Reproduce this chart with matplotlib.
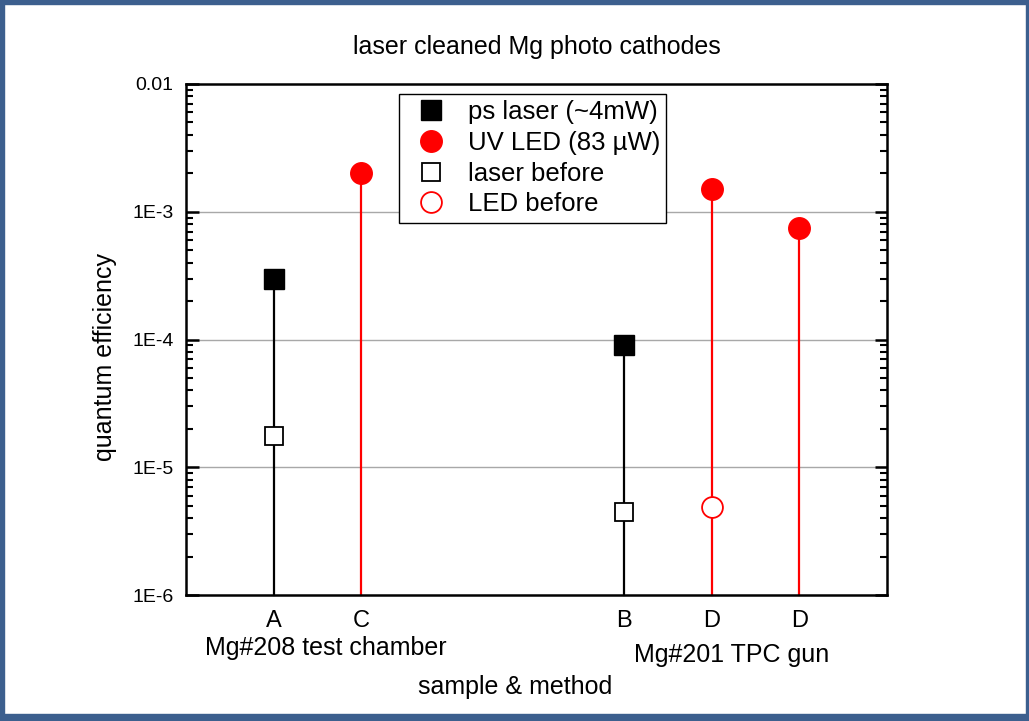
import matplotlib
matplotlib.use("Agg")
import matplotlib.pyplot as plt
from matplotlib.lines import Line2D
from matplotlib.patches import Rectangle
from matplotlib.ticker import LogLocator, FixedLocator, NullFormatter

plt.rcParams['font.family'] = ['Liberation Sans', 'DejaVu Sans']

# ---- data -------------------------------------------------------------
tick_labels = ['A', 'C', 'B', 'D', 'D']
laser_after = {'A': 3.0e-4, 'B': 9.0e-5}          # ps laser (~4mW)
laser_before = {'A': 1.75e-5, 'B': 4.5e-6}        # laser before
led_after = [2.0e-3, 1.5e-3, 7.5e-4]              # UV LED, samples C, D, D
led_before = [None, 4.9e-6, None]                 # LED before (first D only)
y_ticks = [1e-6, 1e-5, 1e-4, 1e-3, 1e-2]
y_tick_labels = ['1E-6', '1E-5', '1E-4', '1E-3', '0.01']
group_labels = ['Mg#208 test chamber', 'Mg#201 TPC gun']
legend_labels = ['ps laser (~4mW)', 'UV LED (83 µW)', 'laser before', 'LED before']

RED = '#ff0000'
W, H = 1029, 721
fig = plt.figure(figsize=(W / 100, H / 100), dpi=100)

# frame around the slide
frame = '#3c5f8e'
fig.patches.append(Rectangle((0, 0), 4 / W, 1, transform=fig.transFigure, color=frame, zorder=10))
fig.patches.append(Rectangle((0, 1 - 4 / H), 1, 4 / H, transform=fig.transFigure, color=frame, zorder=10))
fig.patches.append(Rectangle((0, 0), 1, 7 / H, transform=fig.transFigure, color=frame, zorder=10))
fig.patches.append(Rectangle((1 - 3 / W, 0), 3 / W, 1, transform=fig.transFigure, color=frame, zorder=10))

left, right, top, bottom = 186, 887, 84, 595
ax = fig.add_axes([left / W, 1 - bottom / H, (right - left) / W, (bottom - top) / H])
ax.set_yscale('log')
ax.set_ylim(1e-6, 1e-2)
ax.set_xlim(0, 8)

# slot positions for each sample on the x axis
slot = {'A': 1, 'C': 2, 'B': 5, 'D1': 6, 'D2': 7}
base = 1e-6

# laser measurements: stems plus filled/open squares
for key in ['A', 'B']:
    x = slot[key]
    ax.plot([x, x], [base, laser_after[key]], color='black', lw=1.6, zorder=2, clip_on=False)
    ax.plot(x, laser_after[key], 's', ms=14, mfc='black', mec='black', mew=1, zorder=4)
    ax.plot(x, laser_before[key], 's', ms=13.5, mfc='white', mec='black', mew=1.3, zorder=4)

# LED measurements: red stems plus filled/open circles
for key, v_after, v_before in zip(['C', 'D1', 'D2'], led_after, led_before):
    x = slot[key]
    ax.plot([x, x], [base, v_after], color=RED, lw=1.6, zorder=2, clip_on=False)
    ax.plot(x, v_after, 'o', ms=15.5, mfc=RED, mec=RED, mew=1, zorder=4)
    if v_before is not None:
        ax.plot(x, v_before, 'o', ms=15, mfc='white', mec=RED, mew=1.3, zorder=4)

# axes styling
for sp in ax.spines.values():
    sp.set_linewidth(1.8)
ax.yaxis.set_major_locator(FixedLocator(y_ticks))
ax.set_yticklabels(y_tick_labels)
ax.yaxis.set_minor_locator(LogLocator(base=10, subs=range(2, 10), numticks=20))
ax.yaxis.set_minor_formatter(NullFormatter())
ax.tick_params(axis='y', which='major', direction='in', length=9, width=1.8,
               left=True, right=True, labelsize=14, pad=9)
ax.tick_params(axis='y', which='minor', direction='in', length=5, width=1.5,
               left=True, right=True)
ax.set_xticks([slot['A'], slot['C'], slot['B'], slot['D1'], slot['D2']])
ax.set_xticklabels(tick_labels)
ax.tick_params(axis='x', which='both', length=0, labelsize=17, pad=11)

for v in [1e-5, 1e-4, 1e-3]:
    ax.axhline(v, color='#a8a8a8', lw=1.0, zorder=1)

# group labels under the sample letters
trans = ax.get_xaxis_transform()
ax.text(1.6, 1 - (648 - top) / (bottom - top), group_labels[0], transform=trans,
        fontsize=18, ha='center', va='center')
ax.text(6.23, 1 - (655 - top) / (bottom - top), group_labels[1], transform=trans,
        fontsize=18, ha='center', va='center')

fig.text(515 / W, 1 - 687 / H, 'sample & method', fontsize=18, ha='center', va='center')
fig.text(105 / W, 1 - 357 / H, 'quantum efficiency', fontsize=18, rotation=90,
         ha='center', va='center')
fig.text(537 / W, 1 - 47 / H, 'laser cleaned Mg photo cathodes', fontsize=18,
         ha='center', va='center')

# legend
handles = [
    Line2D([], [], ls='none', marker='s', ms=14, mfc='black', mec='black'),
    Line2D([], [], ls='none', marker='o', ms=15.5, mfc=RED, mec=RED),
    Line2D([], [], ls='none', marker='s', ms=13.5, mfc='white', mec='black', mew=1.3),
    Line2D([], [], ls='none', marker='o', ms=15, mfc='white', mec=RED, mew=1.3),
]
leg = ax.legend(handles, legend_labels, loc='upper left', bbox_to_anchor=(399 / W, 1 - 94 / H),
                bbox_transform=fig.transFigure, fontsize=18.5, frameon=True, fancybox=False,
                edgecolor='black', framealpha=1, borderpad=0.25, labelspacing=0.26,
                handlelength=2.02, handletextpad=0.4, borderaxespad=0)
leg.get_frame().set_linewidth(1.0)

fig.savefig('out.png', dpi=100)
